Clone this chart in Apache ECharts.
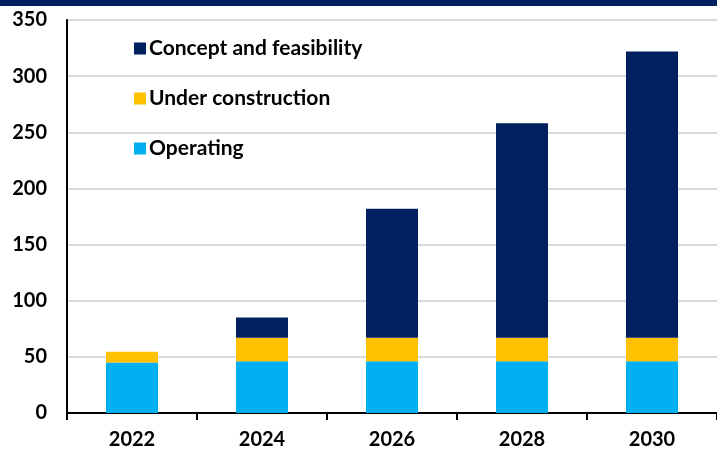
<!DOCTYPE html>
<html>
<head>
<meta charset="utf-8">
<script src="https://cdn.jsdelivr.net/npm/echarts@6/dist/echarts.min.js"></script>
<style>
html, body { margin: 0; padding: 0; background: #fff; }
#chart { width: 717px; height: 452px; }
</style>
</head>
<body>
<div id="chart"></div>
<script>
// years on the x axis
var years = ['2022', '2024', '2026', '2028', '2030'];
// stacked values, bottom to top
var operating = [45, 46, 46, 46, 46];
var underConstruction = [9.5, 21, 21, 21, 21];
var concept = [0, 18, 115, 191, 255];
var yTicks = [0, 50, 100, 150, 200, 250, 300, 350];

var font = 'Lato';
var chart = echarts.init(document.getElementById('chart'));
chart.setOption({
    animation: false,
    graphic: [{
        type: 'rect',
        shape: { x: 0, y: 0, width: 717, height: 6 },
        style: { fill: '#002060' }
    }],
    legend: {
        orient: 'vertical',
        left: 129,
        top: 33,
        itemWidth: 12,
        itemHeight: 12,
        itemGap: 29,
        icon: 'rect',
        data: ['Concept and feasibility', 'Under construction', 'Operating'],
        textStyle: { fontFamily: font, fontWeight: 'bold', fontSize: 21, color: '#000', padding: [0, 0, 0, -2] }
    },
    grid: { left: 67, right: 0, top: 20, bottom: 39 },
    xAxis: {
        type: 'category',
        data: years,
        axisLine: { lineStyle: { color: '#000', width: 2 } },
        axisTick: { show: true, length: 7, lineStyle: { color: '#000', width: 2 } },
        axisLabel: { fontFamily: font, fontWeight: 'bold', fontSize: 20, color: '#000', margin: 17 }
    },
    yAxis: {
        type: 'value',
        min: yTicks[0],
        max: yTicks[yTicks.length - 1],
        interval: 50,
        axisLine: { show: true, lineStyle: { color: '#000', width: 2 } },
        axisTick: { show: false },
        splitLine: { lineStyle: { color: '#d9d9d9', width: 2 } },
        axisLabel: { fontFamily: font, fontWeight: 'bold', fontSize: 20, color: '#000', margin: 20 }
    },
    series: [
        {
            name: 'Operating', type: 'bar', stack: 'all', barWidth: '40%',
            itemStyle: { color: '#00B0F0' }, data: operating
        },
        {
            name: 'Under construction', type: 'bar', stack: 'all',
            itemStyle: { color: '#FFC000' }, data: underConstruction
        },
        {
            name: 'Concept and feasibility', type: 'bar', stack: 'all',
            itemStyle: { color: '#002060' }, data: concept
        }
    ]
});
</script>
</body>
</html>
